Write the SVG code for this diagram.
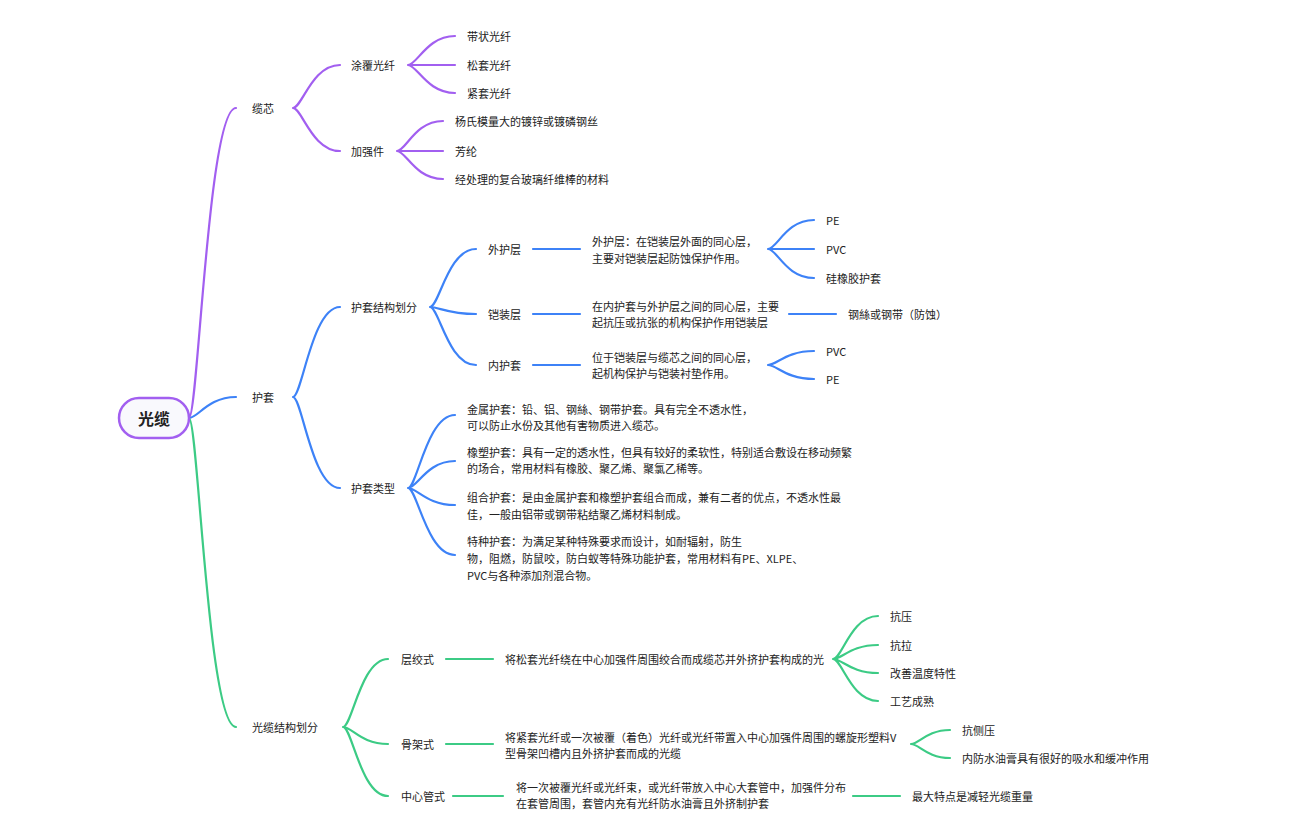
<svg xmlns="http://www.w3.org/2000/svg" width="1296" height="840" viewBox="0 0 1296 840">
<style>
text{font-family:"Noto Sans CJK SC","Noto Sans",sans-serif;font-size:11px;fill:#222;dominant-baseline:central}
.p{fill:none;stroke:#a25ff0;stroke-width:2.2;stroke-linecap:round}
.b{fill:none;stroke:#3d82f7;stroke-width:2.2;stroke-linecap:round}
.g{fill:none;stroke:#3ccb85;stroke-width:2.2;stroke-linecap:round}
</style>
<rect width="1296" height="840" fill="#fff"/>
<g id="connectors">
<path class="p" d="M189 418C198 418 208 108 236 108"/>
<path class="b" d="M189 418C198 418 208 397 236 397"/>
<path class="g" d="M189 418C198 418 208 727 236 727"/>
<path class="p" d="M293 108C302 108 312 65 340 65M293 108C302 108 312 151 340 151"/>
<path class="p" d="M408 65C417 65 427 36 455 36M408 65H455M408 65C417 65 427 93 455 93"/>
<path class="p" d="M397 151C406 151 415 121 443 121M397 151H443M397 151C406 151 415 179 443 179"/>
<path class="b" d="M293 397C302 397 312 307 340 307M293 397C302 397 312 488 340 488"/>
<path class="b" d="M430 307C439 307 448 249 476 249M430 307C439 307 448 314 476 314M430 307C439 307 448 365 476 365"/>
<path class="b" d="M533 249H580M533 314H580M533 365H580"/>
<path class="b" d="M768 249C777 249 786 220 814 220M768 249H814M768 249C777 249 786 278 814 278"/>
<path class="b" d="M789 314H836"/>
<path class="b" d="M768 365C777 365 786 351 814 351M768 365C777 365 786 379 814 379"/>
<path class="b" d="M408 488C417 488 427 415 455 415M408 488C417 488 427 461 455 461M408 488C417 488 427 505 455 505M408 488C417 488 427 555 455 555"/>
<path class="g" d="M343 727C352 727 361 659 388 659M343 727C352 727 361 744 388 744M343 727C352 727 361 796 388 796"/>
<path class="g" d="M446 659H493M446 744H493M453 796H503M853 796H900"/>
<path class="g" d="M833 659C842 659 851 616 878 616M833 659C842 659 851 645 878 645M833 659C842 659 851 673 878 673M833 659C842 659 851 701 878 701"/>
<path class="g" d="M911 744C919 744 927 730 950 730M911 744C919 744 927 758 950 758"/>
</g>
<g id="root"><rect x="119" y="398" width="70" height="40" rx="20" fill="#f9f9fd" stroke="#a25ff0" stroke-width="2.5"/><text x="154" y="418" text-anchor="middle" style="font-size:16px;font-weight:bold">光缆</text></g>
<g id="n-core"><text x="252" y="108">缆芯</text></g>
<g id="n-coat"><text x="351" y="65">涂覆光纤</text></g>
<g id="n-c1"><text x="467" y="36">带状光纤</text></g>
<g id="n-c2"><text x="467" y="65">松套光纤</text></g>
<g id="n-c3"><text x="467" y="93">紧套光纤</text></g>
<g id="n-str"><text x="351" y="151">加强件</text></g>
<g id="n-s1"><text x="455" y="121">杨氏模量大的镀锌或镀磷钢丝</text></g>
<g id="n-s2"><text x="455" y="151">芳纶</text></g>
<g id="n-s3"><text x="455" y="179">经处理的复合玻璃纤维棒的材料</text></g>
<g id="n-sheath"><text x="252" y="397">护套</text></g>
<g id="n-ss"><text x="351" y="307">护套结构划分</text></g>
<g id="n-outer"><text x="488" y="249">外护层</text></g>
<g id="n-outer-d"><text x="592" y="241">外护层：在铠装层外面的同心层，</text><text x="592" y="258">主要对铠装层起防蚀保护作用。</text></g>
<g id="n-o1"><text x="826" y="220">PE</text></g>
<g id="n-o2"><text x="826" y="249">PVC</text></g>
<g id="n-o3"><text x="826" y="278">硅橡胶护套</text></g>
<g id="n-armor"><text x="488" y="314">铠装层</text></g>
<g id="n-armor-d"><text x="592" y="306">在内护套与外护层之间的同心层，主要</text><text x="592" y="322">起抗压或抗张的机构保护作用铠装层</text></g>
<g id="n-a1"><text x="848" y="314">钢絲或钢带（防蚀）</text></g>
<g id="n-inner"><text x="488" y="365">内护套</text></g>
<g id="n-inner-d"><text x="592" y="357">位于铠装层与缆芯之间的同心层，</text><text x="592" y="373">起机构保护与铠装衬垫作用。</text></g>
<g id="n-i1"><text x="826" y="351">PVC</text></g>
<g id="n-i2"><text x="826" y="379">PE</text></g>
<g id="n-type"><text x="351" y="488">护套类型</text></g>
<g id="n-t1"><text x="467" y="409">金属护套：铅、铝、钢絲、钢带护套。具有完全不透水性，</text><text x="467" y="425">可以防止水份及其他有害物质进入缆芯。</text></g>
<g id="n-t2"><text x="467" y="452">橡塑护套：具有一定的透水性，但具有较好的柔软性，特别适合敷设在移动频繁</text><text x="467" y="468">的场合，常用材料有橡胶、聚乙烯、聚氯乙稀等。</text></g>
<g id="n-t3"><text x="467" y="497">组合护套：是由金属护套和橡塑护套组合而成，兼有二者的优点，不透水性最</text><text x="467" y="514">佳，一般由铝带或钢带粘结聚乙烯材料制成。</text></g>
<g id="n-t4"><text x="467" y="541">特种护套：为满足某种特殊要求而设计，如耐辐射，防生</text><text x="467" y="558">物，阻燃，防鼠咬，防白蚁等特殊功能护套，常用材料有PE、XLPE、</text><text x="467" y="575">PVC与各种添加剂混合物。</text></g>
<g id="n-cs"><text x="252" y="727">光缆结构划分</text></g>
<g id="n-layer"><text x="401" y="659">层绞式</text></g>
<g id="n-layer-d"><text x="505" y="659">将松套光纤绕在中心加强件周围绞合而成缆芯并外挤护套构成的光</text></g>
<g id="n-l1"><text x="890" y="616">抗压</text></g>
<g id="n-l2"><text x="890" y="645">抗拉</text></g>
<g id="n-l3"><text x="890" y="673">改善温度特性</text></g>
<g id="n-l4"><text x="890" y="701">工艺成熟</text></g>
<g id="n-frame"><text x="401" y="744">骨架式</text></g>
<g id="n-frame-d"><text x="505" y="737">将紧套光纤或一次被覆（着色）光纤或光纤带置入中心加强件周围的螺旋形塑料V</text><text x="505" y="753">型骨架凹槽内且外挤护套而成的光缆</text></g>
<g id="n-f1"><text x="962" y="730">抗侧压</text></g>
<g id="n-f2"><text x="962" y="758">内防水油膏具有很好的吸水和缓冲作用</text></g>
<g id="n-tube"><text x="401" y="796">中心管式</text></g>
<g id="n-tube-d"><text x="516" y="787">将一次被覆光纤或光纤束，或光纤带放入中心大套管中，加强件分布</text><text x="516" y="803">在套管周围，套管内充有光纤防水油膏且外挤制护套</text></g>
<g id="n-tb1"><text x="912" y="796">最大特点是减轻光缆重量</text></g>
</svg>
